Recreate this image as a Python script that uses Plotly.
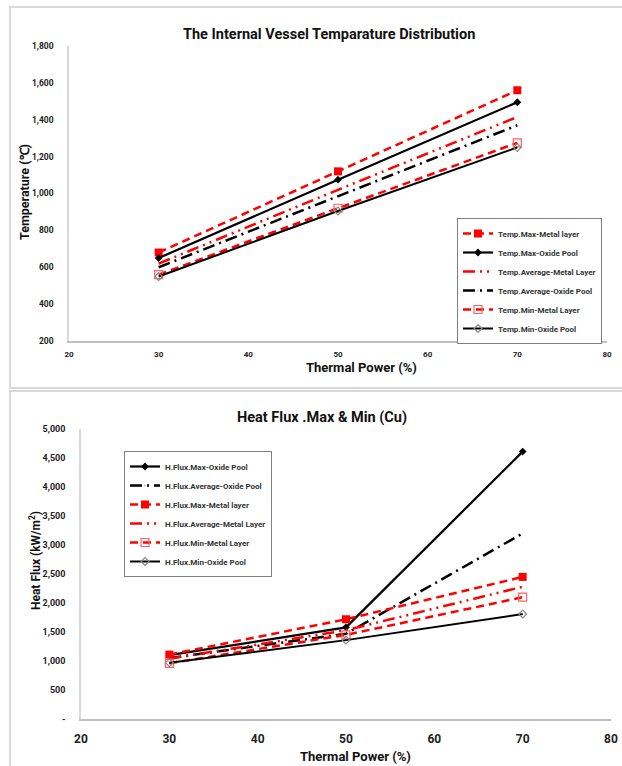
import plotly.graph_objects as go

# ---------------- data ----------------
power = [30, 50, 70]

temp_max_metal = [680, 1120, 1560]
temp_max_oxide = [650, 1075, 1495]
temp_avg_metal = [620, 1020, 1415]
temp_avg_oxide = [600, 985, 1370]
temp_min_metal = [560, 920, 1275]
temp_min_oxide = [550, 905, 1250]

flux_max_oxide = [1100, 1580, 4610]
flux_avg_oxide = [1050, 1470, 3200]
flux_max_metal = [1110, 1720, 2450]
flux_avg_metal = [1040, 1530, 2280]
flux_min_metal = [960, 1450, 2100]
flux_min_oxide = [970, 1360, 1810]

temp_ticks = [200, 400, 600, 800, 1000, 1200, 1400, 1600, 1800]
temp_tick_labels = ["200", "400", "600", "800", "1,000", "1,200", "1,400", "1,600", "1,800"]
flux_ticks = [0, 500, 1000, 1500, 2000, 2500, 3000, 3500, 4000, 4500, 5000]
flux_tick_labels = ["-", "500", "1,000", "1,500", "2,000", "2,500", "3,000", "3,500", "4,000", "4,500", "5,000"]
x_ticks = [20, 30, 40, 50, 60, 70, 80]

W, H = 622, 766
FONT = "Roboto, Open Sans, sans-serif"
RED = "#ff0000"
PINK = "#ff6060"


def px(x):
    return x / W


def py(y):
    return 1 - y / H


fig = go.Figure()

styles = {
    "max_metal": dict(line=dict(color=RED, width=2.5, dash="8px,5px"),
                      marker=dict(symbol="square", size=8, color=RED)),
    "max_oxide": dict(line=dict(color="black", width=2.2),
                      marker=dict(symbol="diamond", size=6, color="black")),
    "avg_metal": dict(line=dict(color=RED, width=2.5, dash="12px,5px,2px,5px,2px,5px"),
                      marker=dict(size=1, color=RED, opacity=0)),
    "avg_oxide": dict(line=dict(color="black", width=2.5, dash="12px,5px,2px,5px"),
                      marker=dict(size=1, color="black", opacity=0)),
    "min_metal": dict(line=dict(color=RED, width=2.5, dash="8px,5px"),
                      marker=dict(symbol="square-open", size=8, color=PINK, line=dict(width=1.2))),
    "min_oxide": dict(line=dict(color="black", width=2),
                      marker=dict(symbol="diamond-open", size=6, color="#888888", line=dict(width=1.2))),
}

top_series = [
    ("Temp.Max-Metal layer", temp_max_metal, "max_metal"),
    ("Temp.Max-Oxide Pool", temp_max_oxide, "max_oxide"),
    ("Temp.Average-Metal Layer", temp_avg_metal, "avg_metal"),
    ("Temp.Average-Oxide Pool", temp_avg_oxide, "avg_oxide"),
    ("Temp.Min-Metal Layer", temp_min_metal, "min_metal"),
    ("Temp.Min-Oxide Pool", temp_min_oxide, "min_oxide"),
]
bottom_series = [
    ("H.Flux.Max-Oxide Pool", flux_max_oxide, "max_oxide"),
    ("H.Flux.Average-Oxide Pool", flux_avg_oxide, "avg_oxide"),
    ("H.Flux.Max-Metal layer", flux_max_metal, "max_metal"),
    ("H.Flux.Average-Metal Layer", flux_avg_metal, "avg_metal"),
    ("H.Flux.Min-Metal Layer", flux_min_metal, "min_metal"),
    ("H.Flux.Min-Oxide Pool", flux_min_oxide, "min_oxide"),
]

for name, vals, st in top_series:
    fig.add_trace(go.Scatter(x=power, y=vals, name=name, mode="lines+markers",
                             xaxis="x", yaxis="y", legend="legend", **styles[st]))
for name, vals, st in bottom_series:
    fig.add_trace(go.Scatter(x=power, y=vals, name=name, mode="lines+markers",
                             xaxis="x2", yaxis="y2", legend="legend2", **styles[st]))

axis_common = dict(showgrid=False, zeroline=False, ticks="", showline=True, automargin=False)

fig.update_layout(
    width=W, height=H,
    margin=dict(l=0, r=0, t=0, b=0),
    paper_bgcolor="white", plot_bgcolor="white",
    font=dict(family=FONT, color="#222222"),
    xaxis=dict(domain=[px(69), px(607)], anchor="y", range=[20, 80], tickvals=x_ticks,
               tickfont=dict(size=8, family=FONT, weight="bold"), linecolor="#c0c0c0", linewidth=1.5,
               ticklabelstandoff=5, **axis_common),
    yaxis=dict(domain=[py(341), py(46)], anchor="x", range=[200, 1800], tickvals=temp_ticks,
               ticktext=temp_tick_labels, tickfont=dict(size=8.5, family=FONT, weight="bold"),
               linecolor="#d9d9d9", linewidth=1.5, ticklabelstandoff=12, **axis_common),
    xaxis2=dict(domain=[px(81), px(611)], anchor="y2", range=[20, 80], tickvals=x_ticks,
                tickfont=dict(size=12, family=FONT, weight="bold"), linecolor="#c0c0c0", linewidth=1.5,
                ticklabelstandoff=8, **axis_common),
    yaxis2=dict(domain=[py(719), py(429)], anchor="x2", range=[0, 5000], tickvals=flux_ticks,
                ticktext=flux_tick_labels, tickfont=dict(size=9, family=FONT, weight="bold"),
                linecolor="#d9d9d9", linewidth=1.5, ticklabelstandoff=12, **axis_common),
    legend=dict(x=px(457), y=py(218), xanchor="left", yanchor="top",
                bordercolor="#808080", borderwidth=1, bgcolor="white",
                font=dict(size=8, family=FONT, color="#333333", weight="bold"),
                itemwidth=30, tracegroupgap=0),
    legend2=dict(x=px(124), y=py(451), xanchor="left", yanchor="top",
                 bordercolor="#808080", borderwidth=1, bgcolor="white",
                 font=dict(size=8, family=FONT, color="#333333", weight="bold"),
                 itemwidth=30, tracegroupgap=0),
    shapes=[
        dict(type="rect", xref="paper", yref="paper", x0=px(10), x1=px(640), y0=py(388), y1=py(7),
             line=dict(color="#d9d9d9", width=2)),
        dict(type="rect", xref="paper", yref="paper", x0=px(10), x1=px(640), y0=py(790), y1=py(391),
             line=dict(color="#d9d9d9", width=2)),
    ],
    annotations=[
        dict(text="<b>The Internal Vessel Temparature Distribution</b>", x=px(329), y=py(35),
             xref="paper", yref="paper", showarrow=False, font=dict(size=14.5, family=FONT, color="#111111"),
             xanchor="center", yanchor="middle"),
        dict(text="<b>Heat Flux .Max & Min (Cu)</b>", x=px(322), y=py(417),
             xref="paper", yref="paper", showarrow=False, font=dict(size=14.5, family=FONT, color="#111111"),
             xanchor="center", yanchor="middle"),
        dict(text="<b>Temperature (℃)</b>", x=px(25), y=py(192), textangle=-90,
             xref="paper", yref="paper", showarrow=False, font=dict(size=12.5, family=FONT, color="#111111"),
             xanchor="center", yanchor="middle"),
        dict(text="<b>Heat Flux (kW/m<sup>2</sup>)</b>", x=px(35), y=py(561), textangle=-90,
             xref="paper", yref="paper", showarrow=False, font=dict(size=12, family=FONT, color="#111111"),
             xanchor="center", yanchor="middle"),
        dict(text="<b>Thermal Power (%)</b>", x=px(361), y=py(368),
             xref="paper", yref="paper", showarrow=False, font=dict(size=13, family=FONT, color="#111111"),
             xanchor="center", yanchor="middle"),
        dict(text="<b>Thermal Power (%)</b>", x=px(355), y=py(756),
             xref="paper", yref="paper", showarrow=False, font=dict(size=13, family=FONT, color="#111111"),
             xanchor="center", yanchor="middle"),
    ],
)

fig.write_html(
    "out.html",
    config={"displayModeBar": False},
    post_script="document.body.style.margin='0';document.body.style.overflow='hidden';",
)
